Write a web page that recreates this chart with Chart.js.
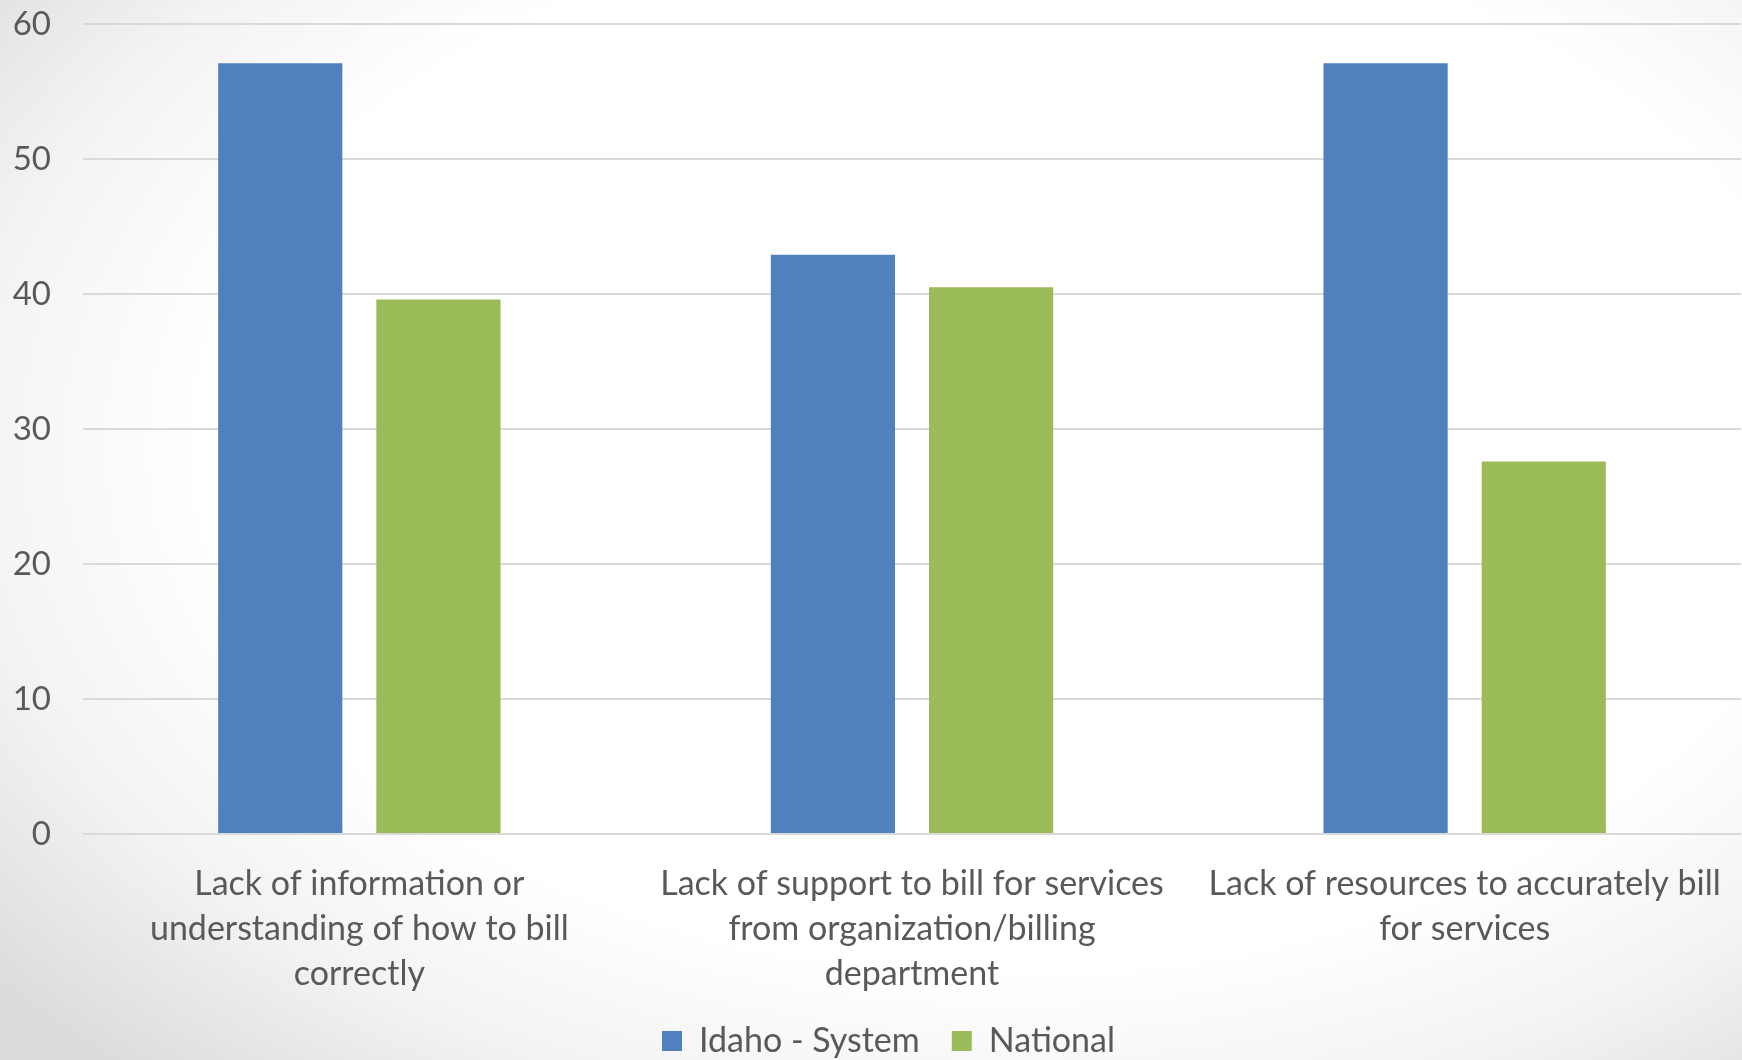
<!DOCTYPE html>
<html>
<head>
<meta charset="utf-8">
<script src="https://cdn.jsdelivr.net/npm/chart.js@4"></script>
<style>
  html, body { margin: 0; padding: 0; width: 1742px; height: 1060px; overflow: hidden; }
  body { background: radial-gradient(ellipse 75% 80% at 58% 42%, #ffffff 62%, #f3f3f3 80%, #dcdcdc 100%); }
  #wrap { position: absolute; left: 0; top: 0; width: 1742px; height: 1060px; }
</style>
</head>
<body>
<div id="wrap"><canvas id="c" width="1742" height="1060"></canvas></div>
<script>
const categories = [
  ["Lack of information or", "understanding of how to bill", "correctly"],
  ["Lack of support to bill for services", "from organization/billing", "department"],
  ["Lack of resources to accurately bill", "for services"]
];
const seriesNames = ["Idaho - System", "National"];
const idahoValues = [57.1, 42.9, 57.1];
const nationalValues = [39.6, 40.5, 27.6];
const yTicks = [0, 10, 20, 30, 40, 50, 60];

const FONT = "Lato, Carlito, Calibri, 'Open Sans', sans-serif";
const TEXT = "#595959";

const legendShift = {
  id: 'legendShift',
  afterLayout(chart) {
    if (chart.legend) { chart.legend.left += 18; chart.legend.right += 18; }
  }
};

new Chart(document.getElementById('c'), {
  type: 'bar',
  data: {
    labels: categories,
    datasets: [
      { label: seriesNames[0], data: idahoValues, backgroundColor: '#4f81bd', borderWidth: 0,
        categoryPercentage: 0.5725, barPercentage: 0.785 },
      { label: seriesNames[1], data: nationalValues, backgroundColor: '#9bbb59', borderWidth: 0,
        categoryPercentage: 0.5725, barPercentage: 0.785 }
    ]
  },
  plugins: [legendShift],
  options: {
    responsive: false,
    animation: false,
    layout: { padding: { left: 0, right: 1, top: 24, bottom: -8 } },
    plugins: {
      tooltip: { enabled: false },
      legend: {
        position: 'bottom',
        labels: {
          color: TEXT,
          font: { family: FONT, size: 34 },
          boxWidth: 20, boxHeight: 20,
          padding: 32,
          useBorderRadius: false
        }
      }
    },
    scales: {
      x: {
        grid: { display: false, drawTicks: false },
        border: { display: false },
        ticks: {
          color: TEXT,
          font: { family: FONT, size: 34, lineHeight: 1.33 },
          padding: 27,
          maxRotation: 0, autoSkip: false
        },
        afterFit: (s) => { s.height = 158; s.paddingLeft = 0; s.paddingRight = 0; }
      },
      y: {
        min: 0, max: 60,
        afterBuildTicks: (s) => { s.ticks = yTicks.map(v => ({ value: v })); },
        grid: { color: '#d9d9d9', lineWidth: 2, drawTicks: false },
        border: { display: false },
        ticks: {
          color: TEXT,
          font: { family: FONT, size: 33 },
          padding: 32
        },
        afterFit: (s) => { s.width = 83; s.paddingTop = 0; s.paddingBottom = 0; }
      }
    }
  }
});
</script>
</body>
</html>
